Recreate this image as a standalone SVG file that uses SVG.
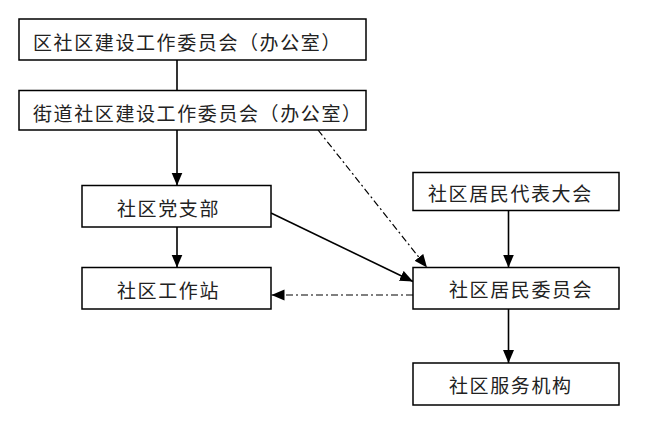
<svg xmlns="http://www.w3.org/2000/svg" width="657" height="426" viewBox="0 0 657 426">
<style>
.box{fill:#fff;stroke:#000;stroke-width:1.5}
.t{font-family:"Noto Sans CJK SC","Noto Sans",sans-serif;font-size:19px;letter-spacing:1.6px;fill:#222;dominant-baseline:central}
.ln{stroke:#000;stroke-width:1.6;fill:none}
.dd{stroke:#000;stroke-width:1.2;fill:none;stroke-dasharray:7 3 2 3}
</style>
<defs>
<marker id="ah" markerUnits="userSpaceOnUse" markerWidth="14" markerHeight="12" refX="13" refY="5.5" orient="auto">
<path d="M0,0 L13,5.5 L0,11 z" fill="#000"/>
</marker>
</defs>
<rect width="657" height="426" fill="#fff"/>
<g id="connectors">
<line class="ln" x1="177" y1="60" x2="177" y2="90.5"/>
<line class="ln" x1="177" y1="130" x2="177" y2="185.5" marker-end="url(#ah)"/>
<line class="ln" x1="177" y1="227" x2="177" y2="267.5" marker-end="url(#ah)"/>
<line class="ln" x1="508.5" y1="210.5" x2="508.5" y2="267.5" marker-end="url(#ah)"/>
<line class="ln" x1="508.5" y1="309" x2="508.5" y2="363" marker-end="url(#ah)"/>
<line class="ln" x1="271" y1="213" x2="413" y2="281.5" marker-end="url(#ah)"/>
<line class="dd" x1="318" y1="130" x2="427" y2="267.5" marker-end="url(#ah)"/>
<line class="dd" x1="413" y1="295" x2="271.5" y2="295" marker-end="url(#ah)"/>
</g>
<g id="n1"><rect class="box" x="19" y="19" width="347" height="41"/><text class="t" x="33" y="41">区社区建设工作委员会（办公室）</text></g>
<g id="n2"><rect class="box" x="19" y="90.5" width="347" height="39.5"/><text class="t" x="33" y="112">街道社区建设工作委员会（办公室）</text></g>
<g id="n3"><rect class="box" x="82" y="185.5" width="189" height="41.5"/><text class="t" x="117" y="207">社区党支部</text></g>
<g id="n4"><rect class="box" x="82" y="267.5" width="189" height="41.5"/><text class="t" x="117" y="289">社区工作站</text></g>
<g id="n5"><rect class="box" x="413" y="172.5" width="206" height="38"/><text class="t" x="428" y="192">社区居民代表大会</text></g>
<g id="n6"><rect class="box" x="413" y="267.5" width="206" height="41.5"/><text class="t" x="449" y="288">社区居民委员会</text></g>
<g id="n7"><rect class="box" x="413" y="363" width="206" height="42"/><text class="t" x="449" y="384">社区服务机构</text></g>
</svg>
